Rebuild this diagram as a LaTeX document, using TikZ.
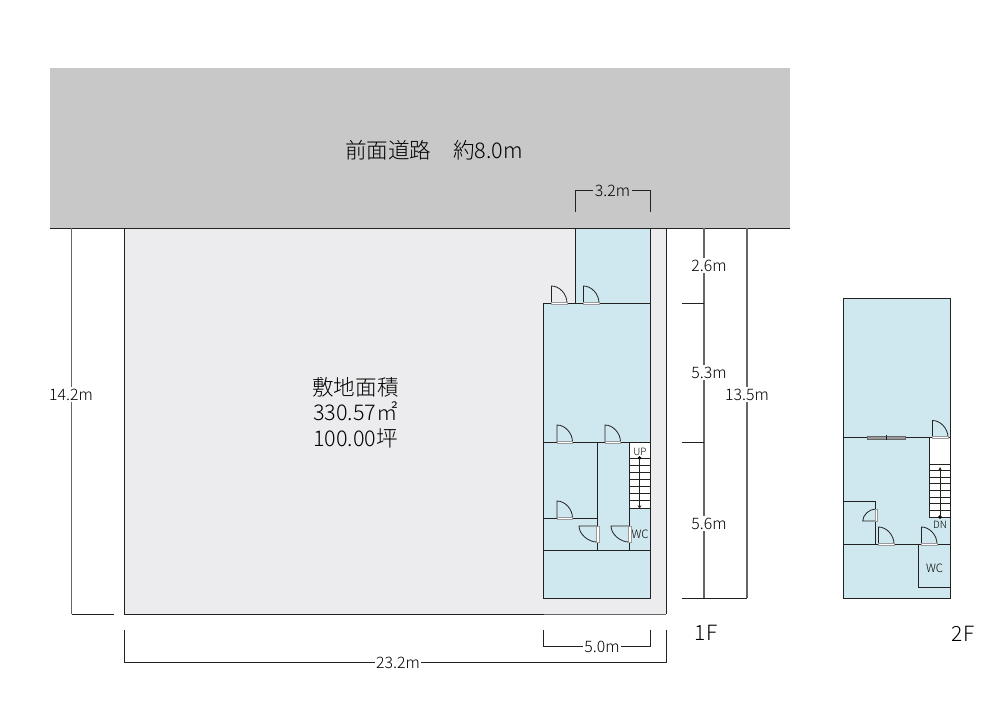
\documentclass[tikz,border=0pt]{standalone}
\usepackage{fontspec}
\setmainfont{Noto Sans CJK JP Light}
\definecolor{RoadSurface}{HTML}{C8C8C8}
\definecolor{SiteSurface}{HTML}{ECECEE}
\definecolor{RoomSurface}{HTML}{CFE7EE}
\definecolor{WallLine}{HTML}{222222}
\definecolor{DimLine}{HTML}{666666}
\definecolor{SillLine}{HTML}{999999}
\tikzset{
    wall/.style={draw=WallLine, line width=0.9pt},
    dimline/.style={draw=DimLine, line width=1.1pt},
    dimtick/.style={draw=WallLine, line width=0.9pt},
    biglabel/.style={font=\fontsize{21.6}{25.5}\selectfont, align=center, inner sep=0pt},
    dimlabel/.style={font=\fontsize{15.8}{18}\selectfont, fill=white, inner sep=1.5pt},
    floorlabel/.style={font=\fontsize{21}{24}\selectfont, inner sep=0pt},
    wclabel/.style={font=\fontsize{11.5}{13}\selectfont, inner sep=0pt},
    stairlabel/.style={font=\fontsize{10}{12}\selectfont, inner sep=0pt},
    doorup/.pic={
        \draw[WallLine, line width=0.8pt] (0,0) -- (0,-17) .. controls (8,-17) and (15.5,-9) .. (15.5,0);
        \draw[fill=white, draw=SillLine, line width=0.5pt] (0,-1.2) rectangle (15.5,1.2);
    },
    doorside/.pic={
        \draw[WallLine, line width=0.8pt] (0,0) -- (-18,0) .. controls (-18,8) and (-9,16) .. (0,16);
        \draw[fill=white, draw=SillLine, line width=0.5pt] (-1.2,0) rectangle (1.8,16);
    },
}

\begin{document}
\begin{tikzpicture}[x=1pt, y=-1pt]
\useasboundingbox (0,0) rectangle (1000,707);

\coordinate (RoadA) at (50, 67.5);
\coordinate (RoadB) at (790, 228);
\coordinate (SiteA) at (124.5, 228);
\coordinate (SiteB) at (666, 614);

% Colorear superficies
\draw[fill=RoadSurface, draw=none] (RoadA) rectangle (RoadB);
\draw[fill=SiteSurface, draw=none] (SiteA) rectangle (SiteB);
\draw[fill=RoomSurface, draw=none] (575.5, 228) -- (650, 228) -- (650, 598) -- (543.5, 598) -- (543.5, 303) -- (575.5, 303) -- cycle;
\draw[fill=RoomSurface, draw=none] (843.5, 298) rectangle (950.5, 598);
\draw[fill=white, draw=none] (629, 442) rectangle (650, 508);
\draw[fill=white, draw=none] (929.5, 438) rectangle (950.5, 517);

% Contorno del terreno
\draw[wall] (50, 228) -- (790, 228);
\draw[wall] (543.5, 614) -- (124.5, 614) -- (124.5, 228);
\draw[draw=DimLine, line width=0.9pt] (543.5, 614) -- (666, 614);
\draw[wall] (666, 228) -- (666, 614);

% Planta 1F
\draw[wall] (575.5, 228) -- (575.5, 303) -- (543.5, 303) -- (543.5, 598) -- (650, 598) -- (650, 228);
\draw[wall] (575.5, 303) -- (650, 303);
\draw[wall] (543.5, 442) -- (650, 442);
\draw[wall] (543.5, 518) -- (597, 518);
\draw[wall] (543.5, 550) -- (650, 550);
\draw[wall] (597, 442) -- (597, 550);
\draw[wall] (629, 442) -- (629, 550);
\draw[wall] (629, 508) -- (650, 508);
\foreach \y in {458, 465, 472, 479, 486, 493, 500} {
    \draw[WallLine, line width=0.8pt] (629, \y) -- (650, \y);
}
\draw[fill=black] (639.5, 458) circle (1.6pt);
\draw[-stealth, WallLine, line width=0.7pt] (639.5, 458) -- (639.5, 509);
\pic at (551.5, 303) {doorup};
\pic at (583.5, 303) {doorup};
\pic at (557, 442) {doorup};
\pic at (605, 442) {doorup};
\pic at (557, 518) {doorup};
\pic at (597, 526) {doorside};
\pic at (629, 526) {doorside};

% Planta 2F
\draw[wall] (843.5, 298) rectangle (950.5, 598);
\draw[wall] (843.5, 437.5) -- (950.5, 437.5);
\draw[wall] (843.5, 544) -- (950.5, 544);
\draw[wall] (843.5, 501.5) -- (875.7, 501.5) -- (875.7, 544);
\draw[wall] (918.3, 544) -- (918.3, 587) -- (950.5, 587);
\draw[wall] (929.5, 437.5) -- (929.5, 517) -- (950.5, 517);
\foreach \y in {464, 470.6, 477.2, 483.8, 490.4, 497, 503.6, 510.2} {
    \draw[WallLine, line width=0.8pt] (929.5, \y) -- (950.5, \y);
}
\draw[fill=black] (940, 517) circle (1.6pt);
\draw[-stealth, WallLine, line width=0.7pt] (940, 517) -- (940, 467);
\draw[fill=SillLine, draw=DimLine, line width=0.4pt] (867, 436.2) rectangle (905.6, 438.8);
\draw[WallLine, line width=1pt] (886.5, 435) -- (886.5, 440);
\pic at (932.5, 437.5) {doorup};
\pic at (878.5, 544) {doorup};
\pic at (921.5, 544) {doorup};
\pic[yscale=-1, xscale=0.72, yscale=0.75] at (875.7, 521) {doorside};

% Cotas
\coordinate (TopA) at (575.5, 212);
\coordinate (TopB) at (575.5, 190);
\coordinate (TopC) at (650, 190);
\coordinate (TopD) at (650, 212);
\draw[dimtick] (TopA) -- (TopB) -- (TopC) -- (TopD);

\coordinate (LeftA) at (71.5, 228);
\coordinate (LeftB) at (71.5, 614);
\coordinate (LeftC) at (114, 614);
\draw[dimline] (LeftA) -- (LeftB);
\draw[dimtick] (LeftB) -- (LeftC);

\coordinate (FiveA) at (543.5, 630);
\coordinate (FiveB) at (543.5, 646);
\coordinate (FiveC) at (650, 646);
\coordinate (FiveD) at (650, 630);
\draw[dimtick] (FiveA) -- (FiveB) -- (FiveC) -- (FiveD);

\coordinate (WideA) at (124.5, 630);
\coordinate (WideB) at (124.5, 662);
\coordinate (WideC) at (666, 662);
\coordinate (WideD) at (666, 630);
\draw[dimtick] (WideA) -- (WideB) -- (WideC) -- (WideD);

\coordinate (RightA) at (704, 228);
\coordinate (RightB) at (704, 598);
\coordinate (RightC) at (747, 228);
\coordinate (RightD) at (747, 598);
\coordinate (TickA) at (682, 303);
\coordinate (TickB) at (682, 442);
\coordinate (TickC) at (682, 598);
\draw[dimline] (RightA) -- (RightB);
\draw[dimline] (RightC) -- (RightD);
\draw[dimtick] (TickA) -- (704, 303);
\draw[dimtick] (TickB) -- (704, 442);
\draw[dimtick] (TickC) -- (RightD);

% Textos
\node[biglabel] (road) at (434, 150.5) {前面道路　約8.0m};
\node[biglabel] (site) at (355.5, 412.5) {敷地面積\\330.57㎡\\100.00坪};
\node[dimlabel, fill=RoadSurface] (dimtop) at (612.5, 190.5) {3.2m};
\node[dimlabel] (dimleft) at (71, 394.5) {14.2m};
\node[dimlabel] (dimfive) at (602, 646.5) {5.0m};
\node[dimlabel] (dimwide) at (398, 662.5) {23.2m};
\node[dimlabel] (dimone) at (709, 265.5) {2.6m};
\node[dimlabel] (dimtwo) at (709, 372.5) {5.3m};
\node[dimlabel] (dimthree) at (709, 523.5) {5.6m};
\node[dimlabel] (dimall) at (747, 394.5) {13.5m};
\node[floorlabel] (firstfloor) at (706, 632.5) {1F};
\node[floorlabel] (secondfloor) at (963, 633.5) {2F};
\node[stairlabel] (stairup) at (640, 452) {UP};
\node[stairlabel] (stairdown) at (940, 525) {DN};
\node[wclabel] (wcone) at (640, 534) {WC};
\node[wclabel] (wctwo) at (934.5, 568) {WC};

\end{tikzpicture}
\end{document}
